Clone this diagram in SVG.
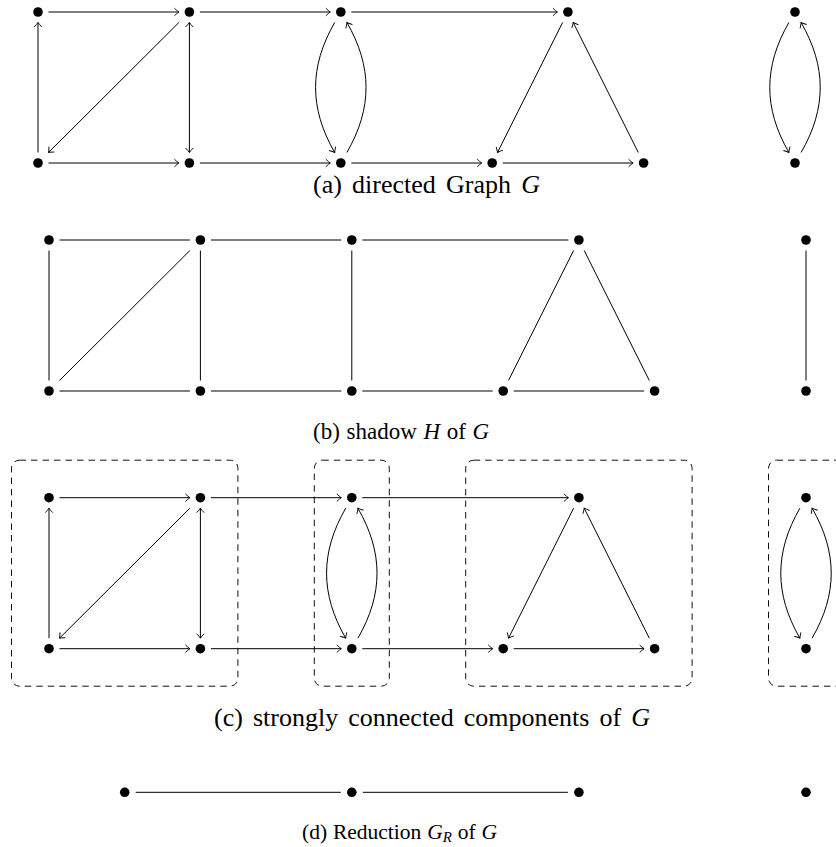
<svg xmlns="http://www.w3.org/2000/svg" width="836" height="847" viewBox="0 0 836 847">
<style>
.e{fill:none;stroke:#000;stroke-width:1}
.d{marker-end:url(#arr)}
.b{marker-start:url(#arr);marker-end:url(#arr)}
.n{fill:#000}
.box{fill:none;stroke:#111;stroke-width:1;stroke-dasharray:6.5 5}
.cap{font-family:"Liberation Serif","Times New Roman",serif;fill:#000}
.m{font-style:italic}
</style>
<defs>
<marker id="arr" viewBox="-6 -5 7 10" refX="0" refY="0" markerWidth="7" markerHeight="10" markerUnits="userSpaceOnUse" orient="auto-start-reverse">
<path d="M-4.5,-3.8 Q-1.7,-1.1 0,0 Q-1.7,1.1 -4.5,3.8" fill="none" stroke="#000" stroke-width="0.9"/>
</marker>
</defs>
<rect width="836" height="847" fill="#fff"/>

<!-- Panel (a) -->
<g id="panel-a">
<g id="a-connectors">
<path class="e d" d="M48.5,12 L178.9,12"/>
<path class="e d" d="M199.9,12 L330.3,12"/>
<path class="e d" d="M351.3,12 L557.4,12"/>
<path class="e d" d="M48.5,163 L178.9,163"/>
<path class="e d" d="M199.9,163 L330.3,163"/>
<path class="e d" d="M351.3,163 L481.7,163"/>
<path class="e d" d="M502.7,163 L633.1,163"/>
<path class="e d" d="M38,152.5 L38,22.5"/>
<path class="e d" d="M178.9,22.5 L48.5,152.5"/>
<path class="e b" d="M189.4,22.5 L189.4,152.5"/>
<path class="e d" d="M334.7,22.5 C309.2,66.7 309.2,108.3 334.7,152.5"/>
<path class="e d" d="M346.9,152.5 C372.4,108.3 372.4,66.7 346.9,22.5"/>
<path class="e d" d="M562.6,22.5 L497.5,152.5"/>
<path class="e d" d="M638.3,152.5 L573.2,22.5"/>
<path class="e d" d="M788.9,22.5 C763.4,66.7 763.4,108.3 788.9,152.5"/>
<path class="e d" d="M801.1,152.5 C826.6,108.3 826.6,66.7 801.1,22.5"/>
</g>
<g id="a-n1"><circle class="n" cx="38" cy="12" r="4.8"/></g>
<g id="a-n2"><circle class="n" cx="189.4" cy="12" r="4.8"/></g>
<g id="a-n3"><circle class="n" cx="340.8" cy="12" r="4.8"/></g>
<g id="a-n4"><circle class="n" cx="567.9" cy="12" r="4.8"/></g>
<g id="a-n5"><circle class="n" cx="795" cy="12" r="4.8"/></g>
<g id="a-n6"><circle class="n" cx="38" cy="163" r="4.8"/></g>
<g id="a-n7"><circle class="n" cx="189.4" cy="163" r="4.8"/></g>
<g id="a-n8"><circle class="n" cx="340.8" cy="163" r="4.8"/></g>
<g id="a-n9"><circle class="n" cx="492.2" cy="163" r="4.8"/></g>
<g id="a-n10"><circle class="n" cx="643.6" cy="163" r="4.8"/></g>
<g id="a-n11"><circle class="n" cx="795" cy="163" r="4.8"/></g>
<text class="cap" x="313" y="193" font-size="26" word-spacing="3.7">(a) directed Graph <tspan class="m">G</tspan></text>
</g>

<!-- Panel (b) -->
<g id="panel-b" transform="translate(11,228)">
<g id="b-connectors">
<path class="e" d="M48.5,12 L178.9,12"/>
<path class="e" d="M199.9,12 L330.3,12"/>
<path class="e" d="M351.3,12 L557.4,12"/>
<path class="e" d="M48.5,163 L178.9,163"/>
<path class="e" d="M199.9,163 L330.3,163"/>
<path class="e" d="M351.3,163 L481.7,163"/>
<path class="e" d="M502.7,163 L633.1,163"/>
<path class="e" d="M38,152.5 L38,22.5"/>
<path class="e" d="M178.9,22.5 L48.5,152.5"/>
<path class="e" d="M189.4,22.5 L189.4,152.5"/>
<path class="e" d="M340.8,22.5 L340.8,152.5"/>
<path class="e" d="M562.6,22.5 L497.5,152.5"/>
<path class="e" d="M638.3,152.5 L573.2,22.5"/>
<path class="e" d="M795,22.5 L795,152.5"/>
</g>
<g id="b-n1"><circle class="n" cx="38" cy="12" r="4.8"/></g>
<g id="b-n2"><circle class="n" cx="189.4" cy="12" r="4.8"/></g>
<g id="b-n3"><circle class="n" cx="340.8" cy="12" r="4.8"/></g>
<g id="b-n4"><circle class="n" cx="567.9" cy="12" r="4.8"/></g>
<g id="b-n5"><circle class="n" cx="795" cy="12" r="4.8"/></g>
<g id="b-n6"><circle class="n" cx="38" cy="163" r="4.8"/></g>
<g id="b-n7"><circle class="n" cx="189.4" cy="163" r="4.8"/></g>
<g id="b-n8"><circle class="n" cx="340.8" cy="163" r="4.8"/></g>
<g id="b-n9"><circle class="n" cx="492.2" cy="163" r="4.8"/></g>
<g id="b-n10"><circle class="n" cx="643.6" cy="163" r="4.8"/></g>
<g id="b-n11"><circle class="n" cx="795" cy="163" r="4.8"/></g>
</g>
<text class="cap" x="313" y="439" font-size="23" word-spacing="0.9">(b) shadow <tspan class="m">H</tspan> of <tspan class="m">G</tspan></text>

<!-- Panel (c) -->
<g id="c-components">
<rect id="c-comp1" class="box" x="11.5" y="460.2" width="226.4" height="226" rx="8"/>
<rect id="c-comp2" class="box" x="314.3" y="460.2" width="75" height="226" rx="8"/>
<rect id="c-comp3" class="box" x="465.7" y="460.2" width="226.4" height="226" rx="8"/>
<rect id="c-comp4" class="box" x="768.5" y="460.2" width="75" height="226" rx="8"/>
</g>
<g id="panel-c" transform="translate(11,485.7)">
<g id="c-connectors">
<path class="e d" d="M48.5,12 L178.9,12"/>
<path class="e d" d="M199.9,12 L330.3,12"/>
<path class="e d" d="M351.3,12 L557.4,12"/>
<path class="e d" d="M48.5,163 L178.9,163"/>
<path class="e d" d="M199.9,163 L330.3,163"/>
<path class="e d" d="M351.3,163 L481.7,163"/>
<path class="e d" d="M502.7,163 L633.1,163"/>
<path class="e d" d="M38,152.5 L38,22.5"/>
<path class="e d" d="M178.9,22.5 L48.5,152.5"/>
<path class="e b" d="M189.4,22.5 L189.4,152.5"/>
<path class="e d" d="M334.7,22.5 C309.2,66.7 309.2,108.3 334.7,152.5"/>
<path class="e d" d="M346.9,152.5 C372.4,108.3 372.4,66.7 346.9,22.5"/>
<path class="e d" d="M562.6,22.5 L497.5,152.5"/>
<path class="e d" d="M638.3,152.5 L573.2,22.5"/>
<path class="e d" d="M788.9,22.5 C763.4,66.7 763.4,108.3 788.9,152.5"/>
<path class="e d" d="M801.1,152.5 C826.6,108.3 826.6,66.7 801.1,22.5"/>
</g>
<g id="c-n1"><circle class="n" cx="38" cy="12" r="4.8"/></g>
<g id="c-n2"><circle class="n" cx="189.4" cy="12" r="4.8"/></g>
<g id="c-n3"><circle class="n" cx="340.8" cy="12" r="4.8"/></g>
<g id="c-n4"><circle class="n" cx="567.9" cy="12" r="4.8"/></g>
<g id="c-n5"><circle class="n" cx="795" cy="12" r="4.8"/></g>
<g id="c-n6"><circle class="n" cx="38" cy="163" r="4.8"/></g>
<g id="c-n7"><circle class="n" cx="189.4" cy="163" r="4.8"/></g>
<g id="c-n8"><circle class="n" cx="340.8" cy="163" r="4.8"/></g>
<g id="c-n9"><circle class="n" cx="492.2" cy="163" r="4.8"/></g>
<g id="c-n10"><circle class="n" cx="643.6" cy="163" r="4.8"/></g>
<g id="c-n11"><circle class="n" cx="795" cy="163" r="4.8"/></g>
</g>
<text class="cap" x="214" y="726" font-size="26" word-spacing="3.6">(c) strongly connected components of <tspan class="m">G</tspan></text>

<!-- Panel (d) -->
<g id="panel-d">
<g id="d-connectors">
<path class="e" d="M135.7,792.3 L340.8,792.3"/>
<path class="e" d="M362.8,792.3 L567.9,792.3"/>
</g>
<g id="d-n1"><circle class="n" cx="124.7" cy="792.3" r="4.8"/></g>
<g id="d-n2"><circle class="n" cx="351.8" cy="792.3" r="4.8"/></g>
<g id="d-n3"><circle class="n" cx="578.9" cy="792.3" r="4.8"/></g>
<g id="d-n4"><circle class="n" cx="806" cy="792.3" r="4.8"/></g>
</g>
<text class="cap" x="302" y="839" font-size="21.5" word-spacing="0.5">(d) Reduction <tspan class="m">G</tspan><tspan class="m" font-size="15" dy="3">R</tspan><tspan dy="-3"> of </tspan><tspan class="m">G</tspan></text>
</svg>
